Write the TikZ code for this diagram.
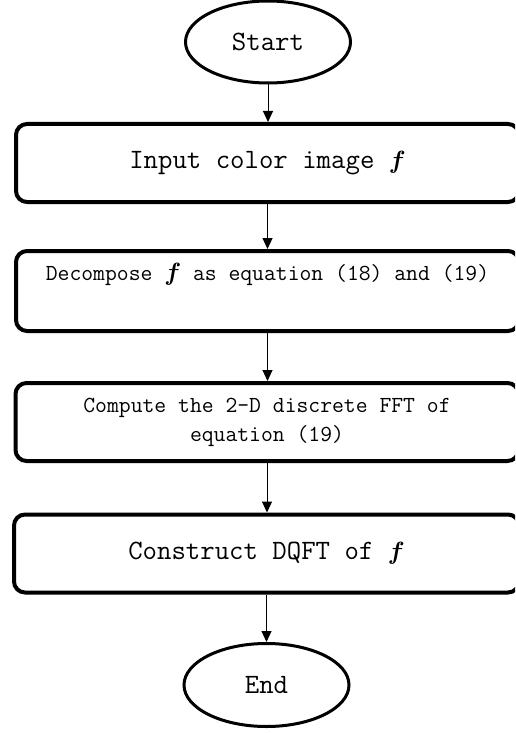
\documentclass[tikz,border=0pt]{standalone}
\usepackage{fontspec}
\usetikzlibrary{shapes.geometric,arrows.meta}
\newcommand{\imgf}{{\boldmath$f$}}
\begin{document}
\begin{tikzpicture}[x=1pt,y=-1pt,
  every node/.style={font=\ttfamily},
  bigtxt/.style={font=\ttfamily\fontsize{28}{34}\selectfont},
  smalltxt/.style={font=\ttfamily\fontsize{23}{29}\selectfont},
  terminal/.style={ellipse,draw,line width=3pt,inner sep=0pt,
    minimum width=165pt,minimum height=80pt},
  stepbox/.style={draw,rounded corners=11pt,line width=4pt,inner sep=0pt,
    minimum width=503pt,minimum height=78pt,align=center},
  arr/.style={line width=1pt,-{Triangle[length=11pt,width=10pt]}}]
\clip (0,0) rectangle (515,733);
\useasboundingbox (0,0) rectangle (515,733);

\node[terminal,bigtxt,minimum height=82pt] (start) at (268,42) {Start};
\node[stepbox,bigtxt] (input) at (267.5,163) {Input color image \imgf};
\node[stepbox,smalltxt,minimum height=80pt] (decomp) at (267.5,291)
  {Decompose \imgf\ as equation (18) and (19)\\ \strut};
\node[stepbox,smalltxt] (fft) at (267,422)
  {Compute the 2-D discrete FFT of\\equation (19)};
\node[stepbox,bigtxt,minimum width=505pt] (dqft) at (266.5,553.5)
  {Construct DQFT of \imgf};
\node[terminal,bigtxt,minimum height=83pt] (end) at (266.5,685) {End};

\draw[arr] (start.south) -- (start.south |- input.north);
\draw[arr] (input.south) -- (input.south |- decomp.north);
\draw[arr] (decomp.south) -- (decomp.south |- fft.north);
\draw[arr] (fft.south) -- (fft.south |- dqft.north);
\draw[arr] (dqft.south) -- (end.north);
\end{tikzpicture}
\end{document}
